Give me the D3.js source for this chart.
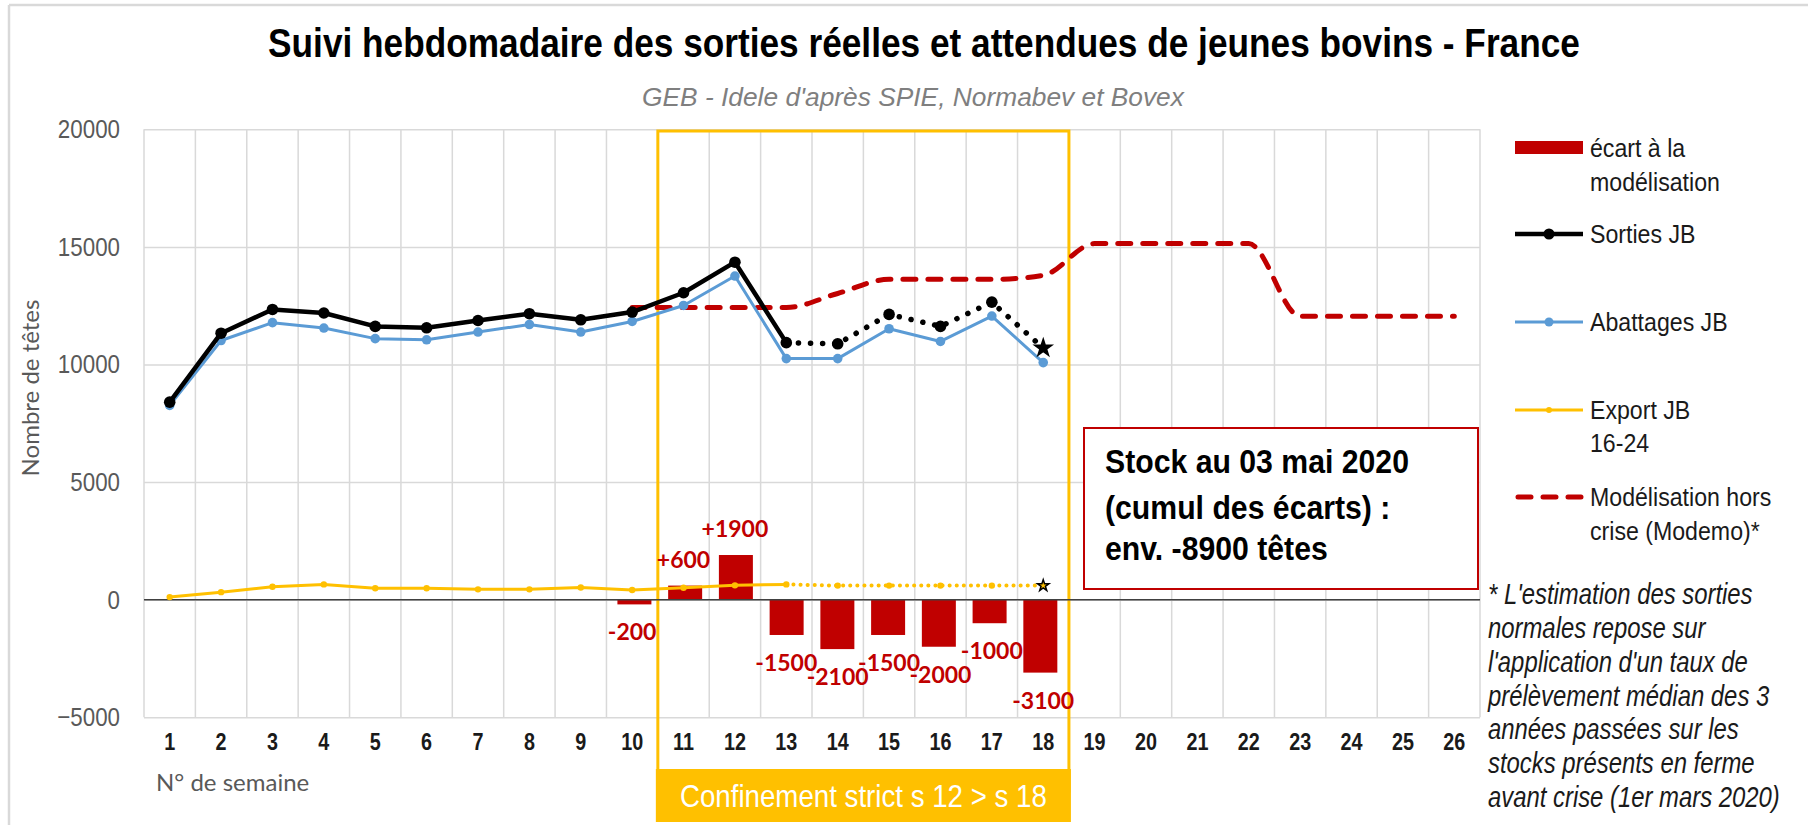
<!DOCTYPE html>
<html>
<head>
<meta charset="utf-8">
<script src="https://cdn.jsdelivr.net/npm/d3@7"></script>
<style>
  body { margin: 0; background: #fff; }
  svg { display: block; }
</style>
</head>
<body>
<div id="main"></div>
<script>
// semaines 1 à 26
var weeks = d3.range(1, 27).map(String);
// sorties JB (semaines 1-18)
var sortiesJB = [8400, 11330, 12340, 12190, 11620, 11560, 11870, 12160, 11900, 12230,
                 13050, 14350, 10930, 10880, 12130, 11620, 12650, 10700];
// abattages JB (semaines 1-18)
var abattagesJB = [8260, 11020, 11780, 11550, 11100, 11050, 11380, 11700, 11380, 11830,
                   12510, 13760, 10250, 10250, 11520, 10980, 12060, 10080];
// export JB 16-24 (semaines 1-18)
var exportJB = [110, 320, 550, 650, 490, 490, 440, 440, 520, 410,
                510, 610, 650, 600, 600, 600, 600, 600];
// modélisation hors crise (semaines 10-26)
var modelWeeks = d3.range(10, 27).map(String);
var modelisation = [12420, 12420, 12420, 12420, 13020, 13620, 13620, 13620, 13790,
                    15140, 15140, 15140, 15140, 12050, 12050, 12050, 12050];
// écart à la modélisation (semaines 10-18)
var ecartWeeks = d3.range(10, 19).map(String);
var ecarts = [-200, 600, 1900, -1500, -2100, -1500, -2000, -1000, -3100];
var yTicks = [-5000, 0, 5000, 10000, 15000, 20000];

var ctx = {
    w: 1808,
    h: 825,
    ARIAL: "'Liberation Sans', Arial, sans-serif",
    SANS: "Lato, 'Open Sans', sans-serif",
    RED: "#C00000",
    BLUE: "#5B9BD5",
    YELLOW: "#FFC000",
    GRID: "#D9D9D9",
};

// texte Arial compressé horizontalement (sx) pour imiter la police d'origine
var addText = function(g, x, y, txt, size, sx, opts){
    opts = opts || {};
    var t = g.append("text")
        .attr("x", x / sx).attr("y", y).attr("dy", "0.35em")
        .attr("transform", "scale(" + sx + ",1)")
        .attr("text-anchor", opts.anchor || "start")
        .style("font-family", ctx.ARIAL).style("font-size", size + "px")
        .style("font-weight", opts.weight || "normal")
        .style("font-style", opts.style || "normal")
        .style("fill", opts.fill || "#1a1a1a")
        .text(txt);
    return t;
};

// ajuste la compression pour obtenir une largeur donnée
var fitWidth = function(t, x, width){
    var w = t.node().getComputedTextLength();
    var sx = width / w;
    t.attr("x", x / sx).attr("transform", "scale(" + sx + ",1)");
    return sx;
};

var initSVGcanvas = function(){
    ctx.xScale = d3.scaleBand().domain(weeks).range([144, 1480]);
    ctx.barScale = d3.scaleBand().domain(weeks).range([144, 1480]).padding(0.33);
    ctx.yScale = d3.scaleLinear().domain([-5000, 20000]).range([717.3, 129.3]);
    var bkg = d3.select("#bkgG");

    // cadre (haut et gauche)
    bkg.append("line").attr("x1", 9).attr("y1", 5).attr("x2", ctx.w).attr("y2", 5)
       .style("stroke", ctx.GRID).style("stroke-width", 2.5);
    bkg.append("line").attr("x1", 9).attr("y1", 5).attr("x2", 9).attr("y2", ctx.h)
       .style("stroke", ctx.GRID).style("stroke-width", 2.5);

    // grille horizontale
    bkg.append("g")
       .attr("transform", "translate(144,0)")
       .call(d3.axisLeft(ctx.yScale).tickValues(yTicks).tickSize(-1336).tickFormat(""))
       .call(function(g){
           g.select(".domain").remove();
           g.selectAll("line").style("stroke", ctx.GRID).style("stroke-width", 1.5);
       });
    // grille verticale
    var bounds = weeks.map(function(d){ return ctx.xScale(d); }).concat([1480]);
    bkg.selectAll("line.vgrid").data(bounds).enter()
       .append("line").classed("vgrid", true)
       .attr("x1", function(d){ return d; }).attr("x2", function(d){ return d; })
       .attr("y1", ctx.yScale(20000)).attr("y2", ctx.yScale(-5000))
       .style("stroke", ctx.GRID).style("stroke-width", 1.5);

    // étiquettes axe y
    bkg.append("g")
       .attr("transform", "translate(120,0)")
       .call(d3.axisLeft(ctx.yScale).tickValues(yTicks).tickSize(0).tickPadding(0).tickFormat(d3.format("d")))
       .call(function(g){
           g.select(".domain").remove();
           g.selectAll("text").attr("transform", "scale(0.86,1)")
            .style("font-family", ctx.ARIAL).style("font-size", "26px")
            .style("fill", "#595959");
       });
    // étiquettes axe x
    bkg.append("g")
       .attr("transform", "translate(0,734)")
       .call(d3.axisBottom(ctx.xScale).tickSize(0).tickPadding(0))
       .call(function(g){
           g.select(".domain").remove();
           g.selectAll("text").attr("transform", "scale(0.86,1)")
            .style("font-family", ctx.ARIAL).style("font-size", "23px")
            .style("font-weight", "bold").style("fill", "#1a1a1a");
       });

    // titres
    var title = addText(bkg, 924, 43, "Suivi hebdomadaire des sorties réelles et attendues de jeunes bovins  - France",
                        40, 1, {anchor: "middle", weight: "bold", fill: "#000"});
    fitWidth(title, 924, 1312);
    var sub = addText(bkg, 913, 97, "GEB - Idele d'après SPIE, Normabev et Bovex",
                      26, 1, {anchor: "middle", style: "italic", fill: "#7f7f7f"});
    fitWidth(sub, 913, 542);
    // titres d'axes
    bkg.append("text")
       .attr("transform", "translate(31,388) rotate(-90)").attr("dy", "0.35em")
       .attr("text-anchor", "middle")
       .style("font-family", ctx.SANS).style("font-size", "24px").style("fill", "#595959")
       .text("Nombre de têtes");
    bkg.append("text").attr("x", 156).attr("y", 783).attr("dy", "0.35em")
       .style("font-family", ctx.SANS).style("font-size", "24px").style("fill", "#595959")
       .text("N° de semaine");

    // période de confinement
    var x0 = ctx.xScale("11"), x1 = ctx.xScale("19");
    bkg.append("rect").attr("x", x0).attr("y", 131).attr("width", x1 - x0).attr("height", 660)
       .style("fill", "none").style("stroke", ctx.YELLOW).style("stroke-width", 3);
    bkg.append("rect").attr("x", x0 - 2).attr("y", 769).attr("width", x1 - x0 + 4).attr("height", 53)
       .style("fill", ctx.YELLOW);
    var conf = addText(bkg, (x0 + x1) / 2, 796, "Confinement strict s 12 > s 18", 32, 1,
                       {anchor: "middle", fill: "#fff"});
    fitWidth(conf, (x0 + x1) / 2, 367);
};

var populateSVGcanvas = function(){
    var x = function(d){ return ctx.xScale(d) + ctx.xScale.bandwidth() / 2; };
    var y = ctx.yScale;
    var ecartData = ecartWeeks.map(function(d, i){ return {w: d, v: ecarts[i]}; });

    // barres d'écart
    d3.select("#bars").selectAll("rect").data(ecartData).enter()
      .append("rect")
      .attr("x", function(d){ return ctx.barScale(d.w); })
      .attr("width", ctx.barScale.bandwidth())
      .attr("y", function(d){ return y(Math.max(0, d.v)); })
      .attr("height", function(d){ return Math.abs(y(d.v) - y(0)); })
      .style("fill", ctx.RED);
    d3.select("#bars").selectAll("text").data(ecartData).enter()
      .append("text")
      .attr("x", function(d){ return x(d.w); })
      .attr("y", function(d){ return d.v > 0 ? y(d.v) - 26 : y(d.v) + 28; })
      .attr("dy", "0.35em").attr("text-anchor", "middle")
      .style("font-family", ctx.SANS).style("font-size", "23px").style("font-weight", "bold")
      .style("fill", ctx.RED)
      .text(function(d){ return d.v > 0 ? "+" + d.v : d.v; });

    // ligne zéro
    d3.select("#bars").append("line")
      .attr("x1", 144).attr("x2", 1480).attr("y1", y(0)).attr("y2", y(0))
      .style("stroke", "#404040").style("stroke-width", 1.5);

    var lineGen = d3.line().x(function(d){ return x(d.w); }).y(function(d){ return y(d.v); });
    var toPts = function(vals, ws){ return vals.map(function(v, i){ return {w: ws[i], v: v}; }); };

    // modélisation hors crise
    d3.select("#lines").append("path")
      .attr("d", lineGen.curve(d3.curveMonotoneX)(toPts(modelisation, modelWeeks)))
      .style("fill", "none").style("stroke", ctx.RED).style("stroke-width", 5)
      .style("stroke-dasharray", "13,12").style("stroke-linecap", "round");
    lineGen.curve(d3.curveLinear);

    var drawSeries = function(vals, color, width, r, dotted, dash, starSize){
        var pts = toPts(vals, weeks);
        var g = d3.select("#lines").append("g");
        g.append("path").attr("d", lineGen(dotted ? pts.slice(0, 13) : pts))
         .style("fill", "none").style("stroke", color).style("stroke-width", width)
         .style("stroke-linejoin", "round");
        if (dotted){
            g.append("path").attr("d", lineGen(pts.slice(12)))
             .style("fill", "none").style("stroke", color).style("stroke-width", width + 1)
             .style("stroke-dasharray", dash).style("stroke-linecap", "round");
        }
        g.selectAll("circle").data(dotted ? pts.slice(0, 17) : pts).enter()
         .append("circle")
         .attr("cx", function(d){ return x(d.w); }).attr("cy", function(d){ return y(d.v); })
         .attr("r", r).style("fill", color);
        if (dotted){
            var last = pts[17];
            g.append("path")
             .attr("d", d3.symbol().type(d3.symbolStar).size(starSize)())
             .attr("transform", "translate(" + x(last.w) + "," + y(last.v) + ")")
             .style("fill", color).style("stroke", "#000").style("stroke-width", 1.5);
        }
    };
    drawSeries(exportJB, ctx.YELLOW, 3, 3.2, true, "0.1,7", 40);
    drawSeries(abattagesJB, ctx.BLUE, 3, 4.8, false);
    drawSeries(sortiesJB, "#000", 4.5, 5.8, true, "0.1,12", 90);
};

var drawLegend = function(){
    var lg = d3.select("#legend");
    var txt = function(x, yy, t){ addText(lg, x, yy, t, 26, 0.89); };
    lg.append("rect").attr("x", 1515).attr("y", 141).attr("width", 68).attr("height", 13)
      .style("fill", ctx.RED);
    txt(1590, 148, "écart à la");
    txt(1590, 182, "modélisation");
    var items = [
        {y: 234, c: "#000", w: 4.5, r: 5.5, t: ["Sorties JB"]},
        {y: 322, c: ctx.BLUE, w: 3, r: 4.5, t: ["Abattages JB"]},
        {y: 410, c: ctx.YELLOW, w: 3, r: 3, t: ["Export JB", "16-24"]},
    ];
    items.forEach(function(it){
        lg.append("line").attr("x1", 1515).attr("x2", 1583).attr("y1", it.y).attr("y2", it.y)
          .style("stroke", it.c).style("stroke-width", it.w);
        lg.append("circle").attr("cx", 1549).attr("cy", it.y).attr("r", it.r).style("fill", it.c);
        it.t.forEach(function(t, i){ txt(1590, it.y + i * 33, t); });
    });
    lg.append("line").attr("x1", 1518).attr("x2", 1582).attr("y1", 497).attr("y2", 497)
      .style("stroke", ctx.RED).style("stroke-width", 5)
      .style("stroke-dasharray", "13,12").style("stroke-linecap", "round");
    txt(1590, 497, "Modélisation hors");
    txt(1590, 531, "crise (Modemo)*");

    // encadré stock
    lg.append("rect").attr("x", 1084).attr("y", 428).attr("width", 394).attr("height", 161)
      .style("fill", "#fff").style("stroke", ctx.RED).style("stroke-width", 2);
    var stock = ["Stock au 03 mai 2020", "(cumul des écarts) :", "env. -8900 têtes"];
    var first = addText(lg, 1105, 461, stock[0], 34, 1, {weight: "bold", fill: "#000"});
    var sx = fitWidth(first, 1105, 304);
    addText(lg, 1105, 507, stock[1], 34, sx, {weight: "bold", fill: "#000"});
    addText(lg, 1105, 548, stock[2], 34, sx, {weight: "bold", fill: "#000"});

    // note
    var note = ["* L'estimation des sorties", "normales repose sur", "l'application d'un taux de",
                "prélèvement médian des 3", "années passées sur les", "stocks présents en ferme",
                "avant crise (1er mars 2020)"];
    var lastLine = addText(lg, 1488, 594 + 6 * 33.8, note[6], 29, 1, {style: "italic"});
    var nsx = fitWidth(lastLine, 1488, 292);
    note.slice(0, 6).forEach(function(t, i){
        addText(lg, 1488, 594 + i * 33.8, t, 29, nsx, {style: "italic"});
    });
};

var createViz = function(){
    var svgEl = d3.select("#main").append("svg");
    svgEl.attr("width", ctx.w);
    svgEl.attr("height", ctx.h);
    var rootG = svgEl.append("g").attr("id", "rootG");
    rootG.append("g").attr("id", "bkgG");
    rootG.append("g").attr("id", "bars");
    rootG.append("g").attr("id", "lines");
    rootG.append("g").attr("id", "legend");
    initSVGcanvas();
    populateSVGcanvas();
    drawLegend();
};

createViz();
</script>
</body>
</html>
